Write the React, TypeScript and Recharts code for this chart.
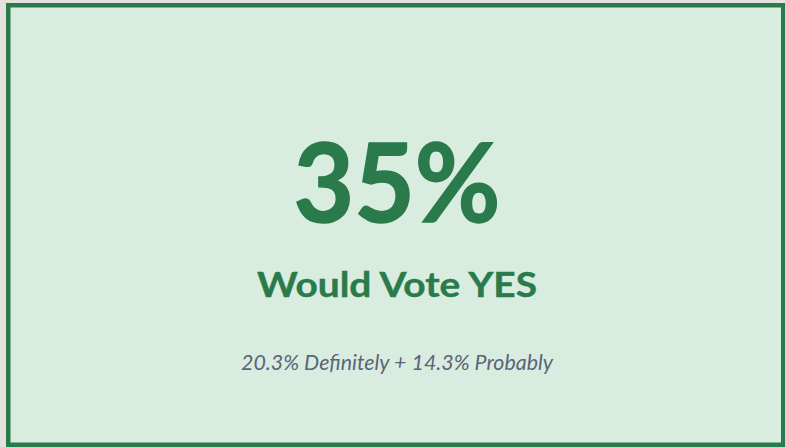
import React from "react";
import { PieChart, Pie, Customized } from "recharts";

const WIDTH = 785;
const HEIGHT = 447;

// KPI values
const kpiLabels = ["Would Vote YES"];
const kpiTotal = [35];
const kpiParts = [20.3, 14.3];
const kpiPartNames = ["Definitely", "Probably"];

const GREEN = "#2a7a4b";
const CARD_BG = "#d8ede0";
const SUB = "#5b6478";
const FONT = "Lato, 'Open Sans', sans-serif";

// single slice so the chart has a series; drawn off-canvas with no size
const pieData = [{ name: "yes", value: kpiTotal[0] }];

function KpiCard() {
  const cx = 397;
  const subtitle = `${kpiParts[0]}% ${kpiPartNames[0]} + ${kpiParts[1]}% ${kpiPartNames[1]}`;
  return (
    <g>
      <rect x={0} y={0} width={WIDTH} height={HEIGHT} fill="#e4e2de" />
      <rect
        x={8.25}
        y={5.25}
        width={775}
        height={439.5}
        fill={CARD_BG}
        stroke={GREEN}
        strokeWidth={4.5}
      />
      <text
        x={cx}
        y={222}
        textAnchor="middle"
        fill={GREEN}
        stroke={GREEN}
        strokeWidth={1.5}
        fontFamily={FONT}
        fontWeight={700}
        fontSize={110}
        textLength={207}
        lengthAdjust="spacingAndGlyphs"
      >
        {`${kpiTotal[0]}%`}
      </text>
      <text
        x={cx}
        y={297}
        textAnchor="middle"
        fill={GREEN}
        stroke={GREEN}
        strokeWidth={0.4}
        fontFamily={FONT}
        fontWeight={700}
        fontSize={34}
        textLength={280}
        lengthAdjust="spacingAndGlyphs"
      >
        {kpiLabels[0]}
      </text>
      <text
        x={cx}
        y={370}
        textAnchor="middle"
        fill={SUB}
        fontFamily={FONT}
        fontStyle="italic"
        fontSize={21}
        textLength={312}
        lengthAdjust="spacingAndGlyphs"
      >
        {subtitle}
      </text>
    </g>
  );
}

export default function App() {
  return (
    <div style={{ position: "absolute", left: 0, top: 0, width: WIDTH, height: HEIGHT }}>
      <PieChart width={WIDTH} height={HEIGHT} margin={{ top: 0, right: 0, bottom: 0, left: 0 }}>
        <Customized component={<KpiCard />} />
        <Pie
          data={pieData}
          dataKey="value"
          cx={-10}
          cy={0}
          outerRadius={0}
          fill="none"
          stroke="none"
          isAnimationActive={false}
        />
      </PieChart>
    </div>
  );
}
